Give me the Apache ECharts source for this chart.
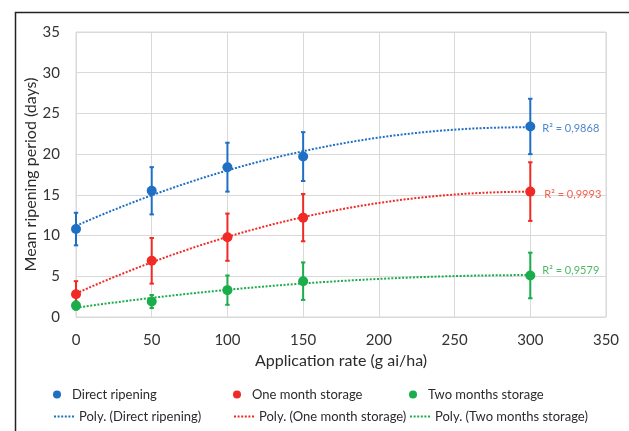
<!DOCTYPE html>
<html>
<head>
<meta charset="utf-8">
<title>Mean ripening period</title>
<script src="https://cdn.jsdelivr.net/npm/echarts@6/dist/echarts.min.js"></script>
<style>
  html, body { margin: 0; padding: 0; background: #fff; }
  #chart { width: 629px; height: 431px; }
</style>
</head>
<body>
<div id="chart"></div>
<script>
// 数据
var rates = [0, 50, 100, 150, 300];
var directRipening = [10.8, 15.5, 18.4, 19.7, 23.4];
var directErr = [2.0, 2.9, 3.0, 3.0, 3.4];
var oneMonth = [2.8, 6.9, 9.8, 12.2, 15.4];
var oneMonthErr = [1.6, 2.8, 2.9, 2.9, 3.6];
var twoMonths = [1.4, 1.9, 3.3, 4.4, 5.1];
var twoMonthsErr = [0.5, 0.8, 1.8, 2.3, 2.8];
var seriesNames = ['Direct ripening', 'One month storage', 'Two months storage'];
var rSquared = ['R² = 0,9868', 'R² = 0,9993', 'R² = 0,9579'];

(function () {
  var myChart = echarts.init(document.getElementById('chart'));
  var font = 'Lato, "Open Sans", sans-serif';
  var colors = ['#1f6fc4', '#f02a25', '#1aad4b'];
  var labelColors = ['#4f88cc', '#f2614f', '#4fb865'];
  var labelOffsets = [[0, 2], [2, 3], [0, -5]];
  var values = [directRipening, oneMonth, twoMonths];
  var errors = [directErr, oneMonthErr, twoMonthsErr];

  // 二次多项式最小二乘拟合（趋势线）
  function polyFit(xs, ys) {
    var n = xs.length, s = [0, 0, 0, 0, 0], t = [0, 0, 0];
    for (var i = 0; i < n; i++) {
      var p = 1;
      for (var k = 0; k < 5; k++) { s[k] += p; if (k < 3) t[k] += p * ys[i]; p *= xs[i]; }
    }
    var m = [[s[0], s[1], s[2], t[0]], [s[1], s[2], s[3], t[1]], [s[2], s[3], s[4], t[2]]];
    for (var c = 0; c < 3; c++) {
      for (var r = c + 1; r < 3; r++) {
        var f = m[r][c] / m[c][c];
        for (var j = c; j < 4; j++) m[r][j] -= f * m[c][j];
      }
    }
    var coef = [0, 0, 0];
    for (var r2 = 2; r2 >= 0; r2--) {
      var sum = m[r2][3];
      for (var j2 = r2 + 1; j2 < 3; j2++) sum -= m[r2][j2] * coef[j2];
      coef[r2] = sum / m[r2][r2];
    }
    return coef;
  }

  function trendData(ys) {
    var c = polyFit(rates, ys), out = [];
    for (var x = rates[0]; x <= rates[rates.length - 1]; x += 5) {
      out.push([x, c[0] + c[1] * x + c[2] * x * x]);
    }
    return out;
  }

  function errorBarRender(color) {
    return function (params, api) {
      var x = api.value(0), y = api.value(1), e = api.value(2);
      var top = api.coord([x, y + e]);
      var bot = api.coord([x, y - e]);
      var cap = 2.2;
      var style = { stroke: color, lineWidth: 2 };
      return {
        type: 'group',
        children: [
          { type: 'line', shape: { x1: top[0], y1: top[1], x2: bot[0], y2: bot[1] }, style: style },
          { type: 'line', shape: { x1: top[0] - cap, y1: top[1], x2: top[0] + cap, y2: top[1] }, style: style },
          { type: 'line', shape: { x1: bot[0] - cap, y1: bot[1], x2: bot[0] + cap, y2: bot[1] }, style: style }
        ]
      };
    };
  }

  var series = [];
  var legends = [];
  var lefts = [48, 228, 404];
  var legendText = { color: '#2b2b2b', fontSize: 13, fontFamily: font };

  seriesNames.forEach(function (name, s) {
    var trendName = 'Poly. (' + name + ')';
    // 误差线
    series.push({
      type: 'custom',
      name: name + ' err',
      renderItem: errorBarRender(colors[s]),
      data: rates.map(function (x, i) { return [x, values[s][i], errors[s][i]]; }),
      z: 2
    });
    // 趋势线
    series.push({
      type: 'line',
      name: trendName,
      symbol: 'none',
      silent: true,
      lineStyle: { color: colors[s], width: 2, type: [2, 1.6] },
      itemStyle: { color: colors[s] },
      data: trendData(values[s]),
      z: 3
    });
    // 散点
    series.push({
      type: 'scatter',
      name: name,
      symbolSize: 10,
      itemStyle: { color: colors[s], opacity: 1 },
      data: rates.map(function (x, i) {
        var pt = [x, values[s][i]];
        if (i === rates.length - 1) {
          return {
            value: pt,
            label: {
              show: true,
              position: 'right',
              distance: 7,
              offset: labelOffsets[s],
              formatter: rSquared[s],
              color: labelColors[s],
              fontSize: 11,
              fontFamily: font
            }
          };
        }
        return pt;
      }),
      z: 4
    });

    legends.push({
      data: [{ name: name, icon: 'circle' }],
      left: lefts[s],
      top: 383,
      itemWidth: 20,
      itemHeight: 8,
      textStyle: legendText
    });
    legends.push({
      data: [trendName],
      left: lefts[s],
      top: 405,
      itemWidth: 20,
      itemHeight: 8,
      itemStyle: { opacity: 0 },
      textStyle: legendText
    });
  });

  var option = {
    animation: false,
    textStyle: { fontFamily: font },
    legend: legends,
    grid: {
      left: 76,
      right: 23,
      top: 32,
      bottom: 114,
      show: true,
      borderColor: '#d9d9d9',
      borderWidth: 1
    },
    xAxis: {
      type: 'value',
      min: 0,
      max: 350,
      interval: 50,
      name: 'Application rate (g ai/ha)',
      nameLocation: 'middle',
      nameGap: 36,
      nameMoveOverlap: false,
      nameTextStyle: { color: '#2b2b2b', fontSize: 16, fontFamily: font },
      axisLine: { show: false },
      axisTick: { show: false },
      axisLabel: { color: '#333', fontSize: 15, margin: 16, fontFamily: font },
      splitLine: { lineStyle: { color: '#d9d9d9', width: 1 } }
    },
    yAxis: {
      type: 'value',
      min: 0,
      max: 35,
      interval: 5,
      name: 'Mean ripening period (days)',
      nameLocation: 'middle',
      nameGap: 37,
      nameMoveOverlap: false,
      nameTextStyle: { color: '#2b2b2b', fontSize: 16, fontFamily: font },
      axisLine: { show: false },
      axisTick: { show: false },
      axisLabel: { color: '#333', fontSize: 15, margin: 16, fontFamily: font },
      splitLine: { lineStyle: { color: '#d9d9d9', width: 1 } }
    },
    graphic: [
      {
        type: 'rect',
        left: 13,
        top: 10,
        shape: { width: 700, height: 500 },
        style: { fill: 'none', stroke: '#222', lineWidth: 1.5 },
        silent: true
      }
    ],
    series: series
  };

  myChart.setOption(option);
  window.addEventListener('resize', function () {
    myChart.resize();
  });
})();
</script>
</body>
</html>
